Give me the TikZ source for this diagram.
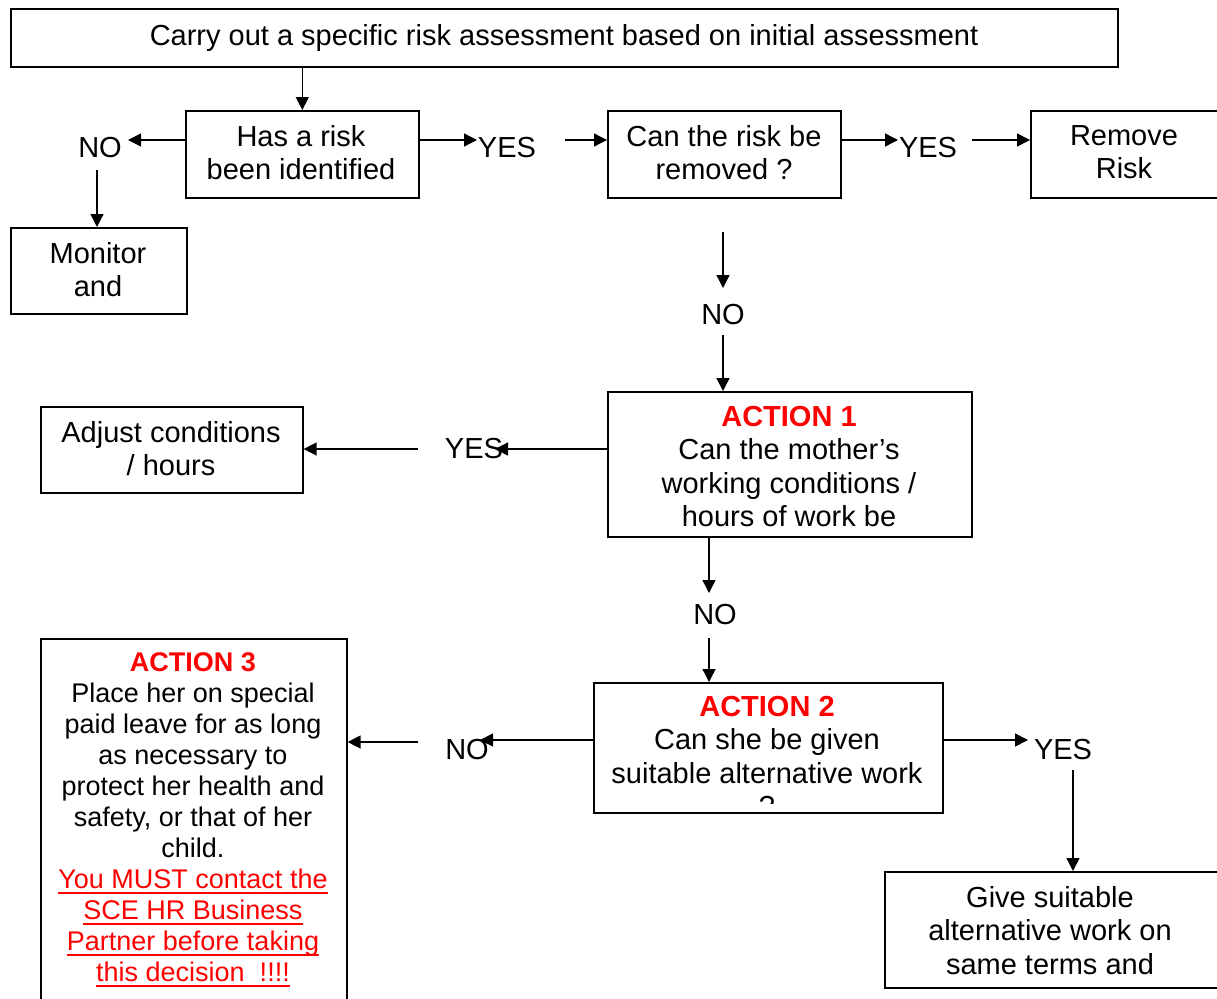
\documentclass[tikz,border=0pt]{standalone}
\usepackage{fontspec}
\setmainfont{Liberation Sans}
\usetikzlibrary{arrows.meta}
\newsavebox\ulbox
\newcommand\myuline[1]{\sbox\ulbox{#1}\rlap{\rule[-6pt]{\wd\ulbox}{2.4pt}}\usebox\ulbox}
\begin{document}
\begin{tikzpicture}[x=1pt,y=-1pt,
  box/.style={draw, line width=1.6pt, inner sep=0pt, anchor=north west},
  txt/.style={font=\fontsize{29}{33.5}\selectfont, align=center, inner sep=0pt, anchor=north},
  txtsmall/.style={font=\fontsize{27}{31}\selectfont, align=center, inner sep=0pt, anchor=north},
  lab/.style={font=\fontsize{29}{33.5}\selectfont, inner sep=0pt},
  arr/.style={line width=1.4pt, -{Triangle[length=13pt,width=13pt]}}]
\useasboundingbox (0,0) rectangle (1217,998);
\fill[white] (0,0) rectangle (1217,998);

% boxes
\node[box, minimum width=1107pt, minimum height=58pt] (top) at (10,8) {};
\node[txt] (topt) at (564,24) {Carry out a specific risk assessment based on initial assessment};

\node[box, minimum width=233pt, minimum height=87pt] (has) at (185,110) {};
\node[txt] (hast) at (301,125) {Has a risk\\been identified};

\node[box, minimum width=176pt, minimum height=86pt] (mon) at (10,227) {};
\node[txt] (mont) at (98,242) {Monitor\\and};

\node[box, minimum width=233pt, minimum height=87pt] (can) at (607,110) {};
\node[txt] (cant) at (724,125) {Can the risk be\\removed ?};

\node[box, minimum width=230pt, minimum height=87pt] (rem) at (1030,110) {};
\node[txt] (remt) at (1124,125) {Remove\\Risk};

\node[box, minimum width=364pt, minimum height=145pt] (a1) at (607,391) {};
\begin{scope}
\clip (607,391) rectangle (971,528);
\node[txt] (a1t) at (789,406) {\textcolor{red}{\textbf{ACTION 1}}\\Can the mother’s\\working conditions /\\hours of work be};
\end{scope}

\node[box, minimum width=262pt, minimum height=86pt] (adj) at (40,406) {};
\node[txt] (adjt) at (171,421) {Adjust conditions\\/ hours};

\node[box, minimum width=349pt, minimum height=130pt] (a2) at (593,682) {};
\begin{scope}
\clip (593,682) rectangle (942,803);
\node[txt] (a2t) at (767,696) {\textcolor{red}{\textbf{ACTION 2}}\\Can she be given\\suitable alternative work\\?};
\end{scope}

\node[box, minimum width=306pt, minimum height=400pt] (a3) at (40,638) {};
\node[txtsmall] (a3t) at (193,652) {\textcolor{red}{\textbf{ACTION 3}}\\Place her on special\\paid leave for as long\\as necessary to\\protect her health and\\safety, or that of her\\child.\\\textcolor{red}{\myuline{You MUST contact the}}\\\textcolor{red}{\myuline{SCE HR Business}}\\\textcolor{red}{\myuline{Partner before taking}}\\\textcolor{red}{\myuline{this decision~~!!!!}}};

\node[box, minimum width=360pt, minimum height=116pt] (give) at (884,871) {};
\node[txt] (givet) at (1050,886) {Give suitable\\alternative work on\\same terms and};

% labels
\node[lab] (no1) at (100,148) {NO};
\node[lab] (yes1) at (507,148) {YES};
\node[lab] (yes2) at (928,148) {YES};
\node[lab] (no2) at (723,315) {NO};
\node[lab] (yes3) at (474,449) {YES};
\node[lab] (no3) at (715,615) {NO};
\node[lab] (no4) at (467,750) {NO};
\node[lab] (yes4) at (1063,750) {YES};

% free ends
\coordinate (e1) at (128,140);
\coordinate (s3) at (97,170);
\coordinate (e4) at (477,140);
\coordinate (s5) at (565,140);
\coordinate (e6) at (898,140);
\coordinate (s7) at (972,140);
\coordinate (s8) at (723,232);
\coordinate (e8) at (723,288);
\coordinate (s9) at (723,335);
\coordinate (e10) at (495,449);
\coordinate (s11) at (418,449);
\coordinate (e12) at (709,593);
\coordinate (s13) at (709,638);
\coordinate (e14) at (480,740);
\coordinate (s15) at (418,742);
\coordinate (e16) at (1028,740);
\coordinate (s17) at (1073,770);

% connectors
\draw[arr] (has.north |- top.south) -- (has.north);
\draw[arr] (has.west |- e1) -- (e1);
\draw[arr] (s3) -- (s3 |- mon.north);
\draw[arr] (has.east |- e4) -- (e4);
\draw[arr] (s5) -- (s5 -| can.west);
\draw[arr] (can.east |- e6) -- (e6);
\draw[arr] (s7) -- (s7 -| rem.west);
\draw[arr] (s8) -- (e8);
\draw[arr] (s9) -- (s9 |- a1.north);
\draw[arr] (a1.west |- e10) -- (e10);
\draw[arr] (s11) -- (s11 -| adj.east);
\draw[arr] (a1.south -| e12) -- (e12);
\draw[arr] (s13) -- (s13 |- a2.north);
\draw[arr] (a2.west |- e14) -- (e14);
\draw[arr] (s15) -- (s15 -| a3.east);
\draw[arr] (a2.east |- e16) -- (e16);
\draw[arr] (s17) -- (s17 |- give.north);
\end{tikzpicture}
\end{document}
